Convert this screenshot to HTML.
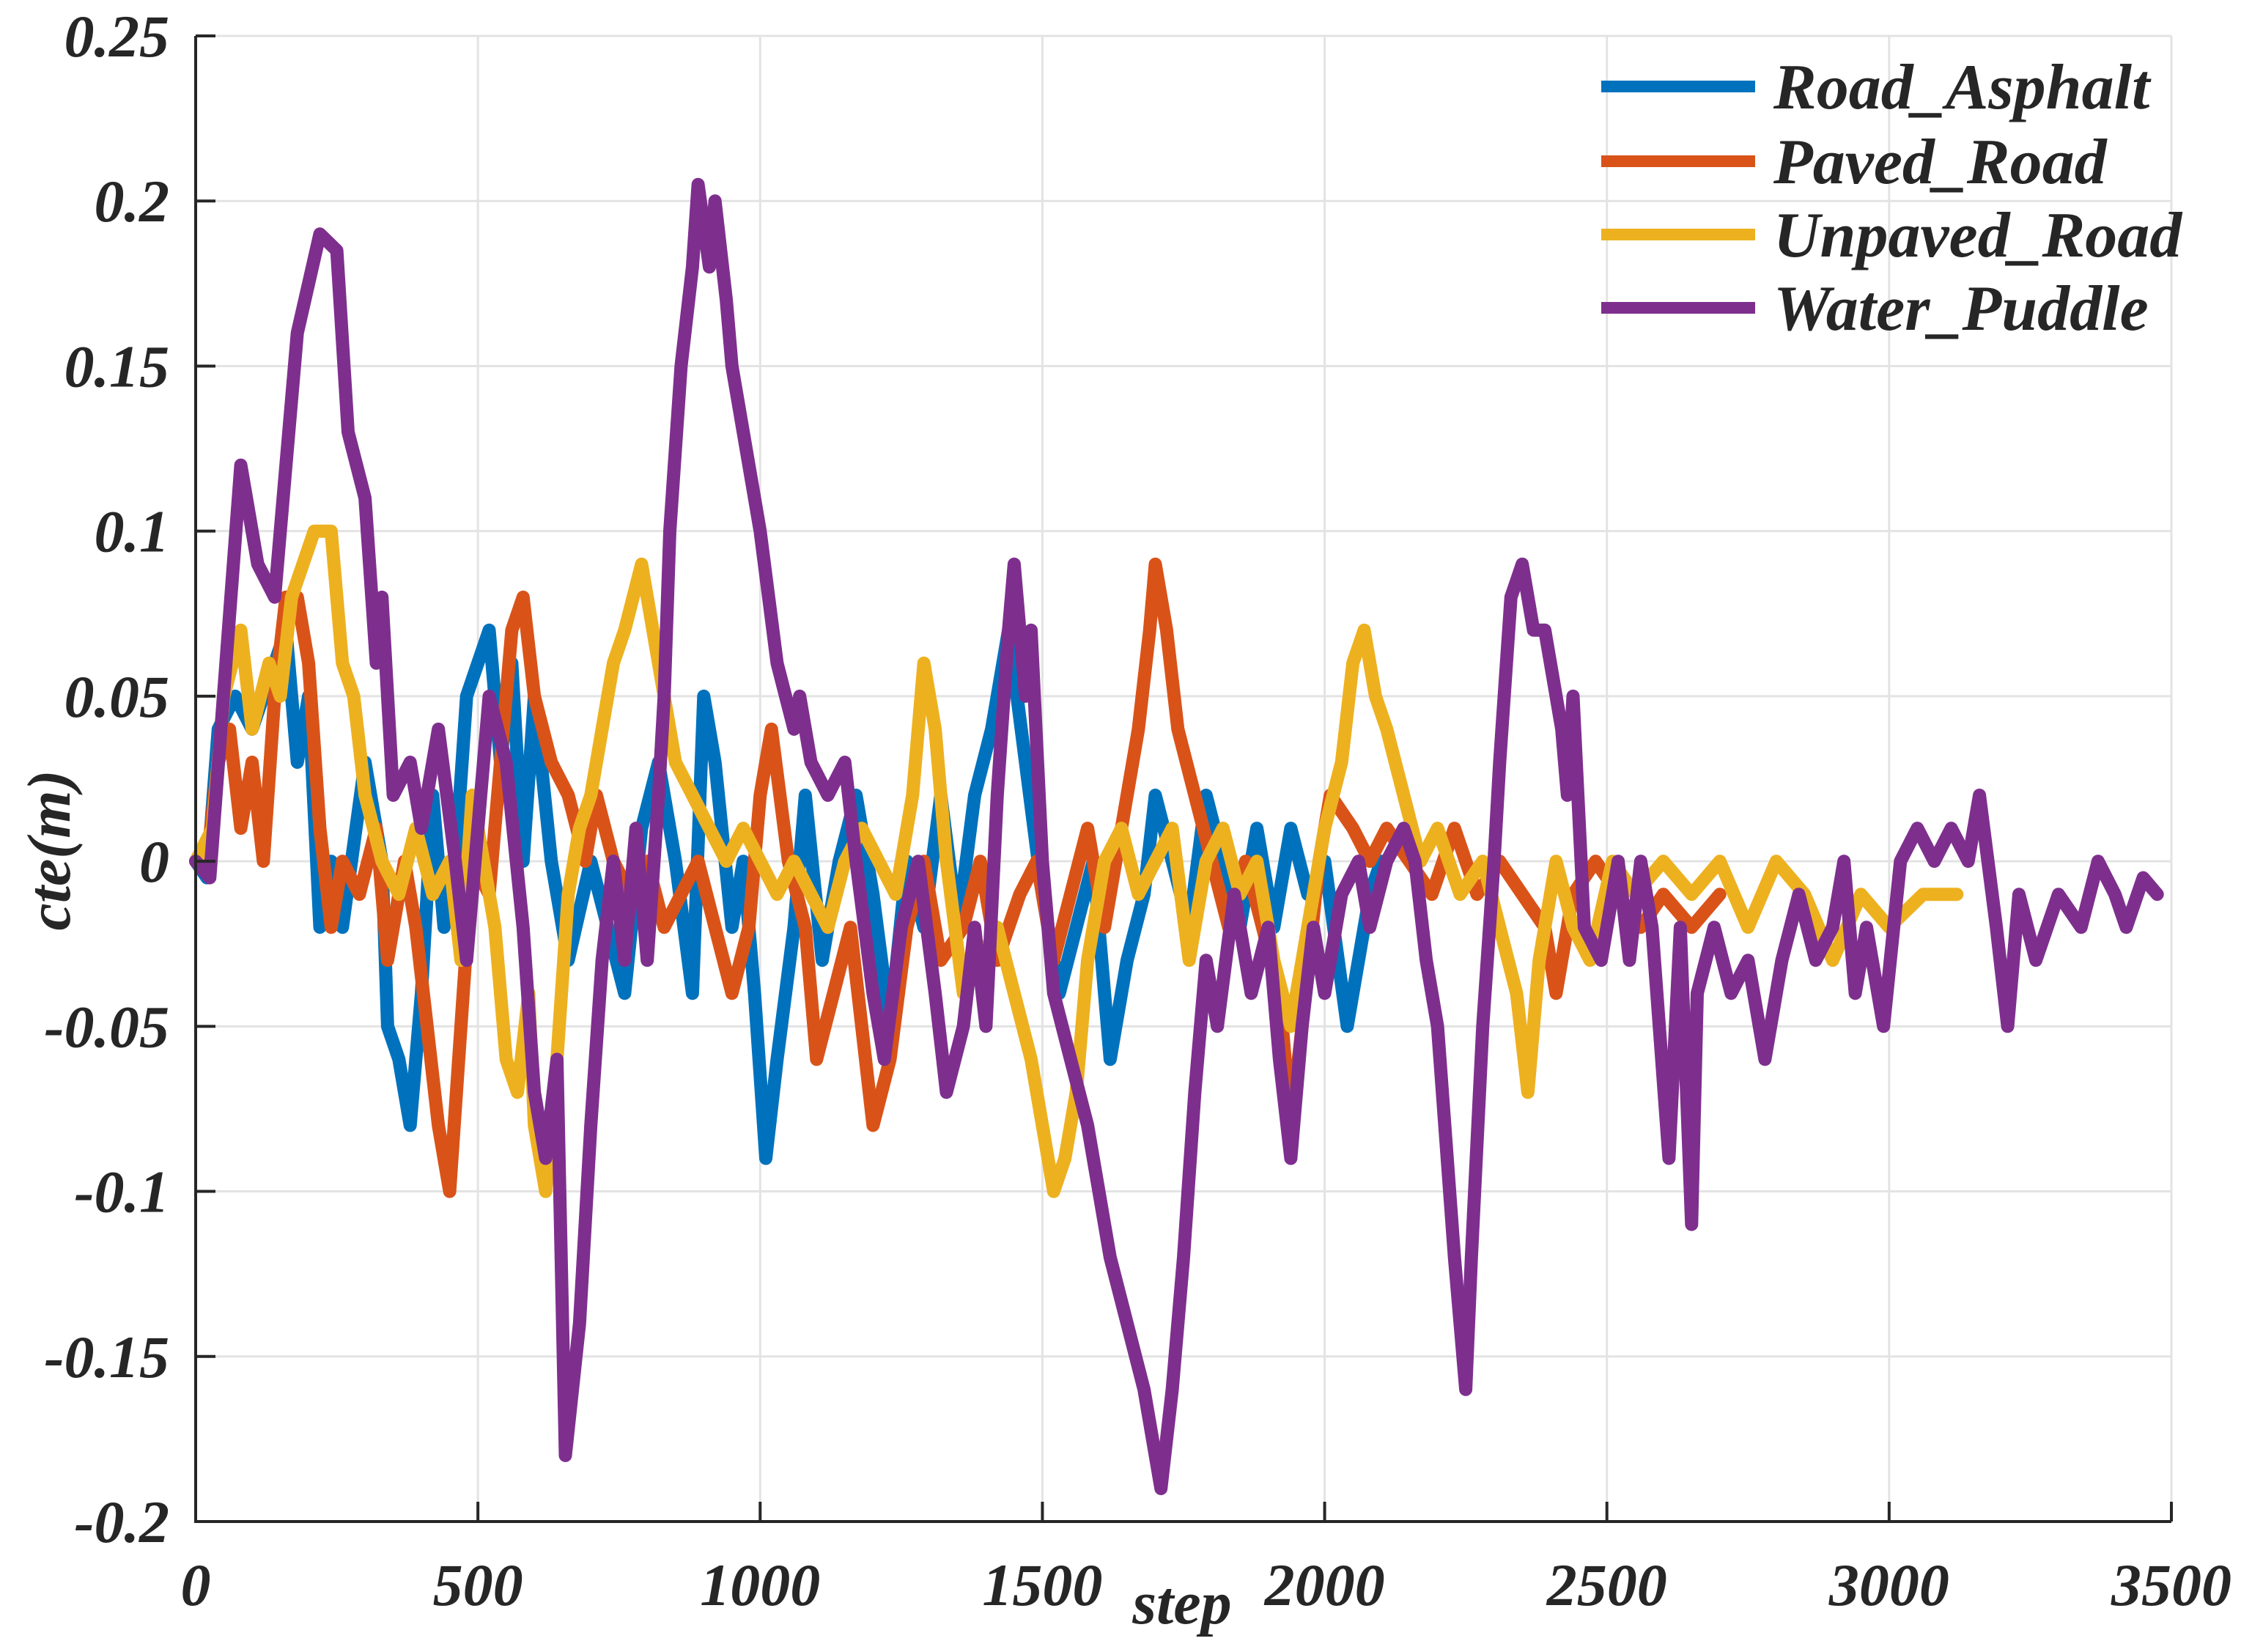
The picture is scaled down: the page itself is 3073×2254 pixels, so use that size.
<!DOCTYPE html>
<html><head><meta charset="utf-8"><style>
html,body{margin:0;padding:0;background:#fff;}
svg{display:block;}
text{font-family:"Liberation Serif",serif;font-weight:bold;font-style:italic;fill:#262626;}
</style></head><body>
<svg id="chart" width="3073" height="2254" viewBox="0 0 3073 2254" xmlns="http://www.w3.org/2000/svg">
<g id="grid"></g>
<g id="series"></g>
<g id="axes"></g>
<g id="legend"></g>
</svg>
<script>
const xTicks=[0,500,1000,1500,2000,2500,3000,3500];
const yTicks=[-0.2,-0.15,-0.1,-0.05,0,0.05,0.1,0.15,0.2,0.25];
const yTickLabels=["-0.2","-0.15","-0.1","-0.05","0","0.05","0.1","0.15","0.2","0.25"];
const seriesNames=["Road_Asphalt","Paved_Road","Unpaved_Road","Water_Puddle"];
const asphaltX=[0,20,40,70,100,140,160,180,200,220,240,260,300,330,340,360,380,400,420,440,460,480,500,520,540,560,580,600,630,660,700,730,760,790,820,850,880,900,920,950,970,990,1010,1030,1060,1080,1110,1140,1170,1200,1230,1260,1290,1320,1350,1380,1410,1440,1470,1500,1530,1560,1590,1620,1650,1680,1700,1730,1760,1790,1820,1850,1880,1910,1940,1970,2000,2040,2080,2100];
const asphaltY=[0,-0.005,0.04,0.05,0.04,0.06,0.07,0.03,0.05,-0.02,0,-0.02,0.03,0,-0.05,-0.06,-0.08,-0.04,0.02,-0.02,0,0.05,0.06,0.07,0.03,0.06,0,0.05,0,-0.03,0,-0.02,-0.04,0.01,0.03,0,-0.04,0.05,0.03,-0.02,0,-0.04,-0.09,-0.06,-0.02,0.02,-0.03,0,0.02,-0.01,-0.05,0,-0.02,0.02,-0.02,0.02,0.04,0.07,0.03,-0.01,-0.04,-0.02,0,-0.06,-0.03,-0.01,0.02,0,-0.02,0.02,0,-0.02,0.01,-0.02,0.01,-0.01,0,-0.05,-0.01,0];
const pavedX=[0,20,40,60,80,100,120,140,160,180,200,220,240,260,290,320,340,370,390,410,430,450,470,490,520,540,560,580,600,630,660,690,710,740,770,800,830,860,890,920,950,980,1000,1020,1050,1080,1100,1130,1160,1180,1200,1230,1260,1290,1320,1360,1390,1420,1460,1490,1520,1550,1580,1610,1640,1670,1690,1700,1720,1740,1770,1800,1830,1860,1890,1920,1940,1960,1990,2010,2050,2080,2110,2150,2190,2230,2270,2310,2350,2390,2410,2440,2480,2520,2560,2600,2650,2700];
const pavedY=[0,0,0.03,0.04,0.01,0.03,0,0.05,0.08,0.08,0.06,0.01,-0.02,0,-0.01,0.01,-0.03,0,-0.02,-0.05,-0.08,-0.1,-0.05,0,-0.01,0.03,0.07,0.08,0.05,0.03,0.02,0,0.02,0,-0.01,0,-0.02,-0.01,0,-0.02,-0.04,-0.02,0.02,0.04,0,-0.02,-0.06,-0.04,-0.02,-0.05,-0.08,-0.06,-0.02,0,-0.03,-0.02,0,-0.03,-0.01,0,-0.03,-0.01,0.01,-0.02,0.01,0.04,0.07,0.09,0.07,0.04,0.02,0,-0.02,0,-0.02,-0.04,-0.08,-0.05,0,0.02,0.01,0,0.01,0,-0.01,0.01,-0.01,0,-0.01,-0.02,-0.04,-0.01,0,-0.01,-0.02,-0.01,-0.02,-0.01];
const unpavedX=[0,30,50,80,100,130,150,170,190,210,240,260,280,300,330,360,390,420,450,470,490,510,530,550,570,590,600,620,640,660,680,700,720,740,760,790,810,830,850,880,910,940,970,1000,1030,1060,1090,1120,1150,1180,1210,1240,1270,1290,1310,1330,1360,1390,1420,1450,1480,1500,1520,1540,1560,1580,1610,1640,1670,1700,1730,1760,1790,1820,1850,1880,1910,1940,1970,2000,2030,2050,2070,2090,2110,2140,2170,2200,2240,2280,2310,2340,2360,2380,2410,2440,2470,2510,2550,2600,2650,2700,2750,2800,2850,2900,2950,3000,3060,3120];
const unpavedY=[0,0.01,0.05,0.07,0.04,0.06,0.05,0.08,0.09,0.1,0.1,0.06,0.05,0.02,0,-0.01,0.01,-0.01,0,-0.03,0.02,0,-0.02,-0.06,-0.07,-0.04,-0.08,-0.1,-0.06,-0.01,0.01,0.02,0.04,0.06,0.07,0.09,0.07,0.05,0.03,0.02,0.01,0,0.01,0,-0.01,0,-0.01,-0.02,0,0.01,0,-0.01,0.02,0.06,0.04,0,-0.04,-0.03,-0.02,-0.04,-0.06,-0.08,-0.1,-0.09,-0.07,-0.03,0,0.01,-0.01,0,0.01,-0.03,0,0.01,-0.01,0,-0.03,-0.05,-0.02,0.01,0.03,0.06,0.07,0.05,0.04,0.02,0,0.01,-0.01,0,-0.02,-0.04,-0.07,-0.03,0,-0.02,-0.03,0,-0.01,0,-0.01,0,-0.02,0,-0.01,-0.03,-0.01,-0.02,-0.01,-0.01];
const puddleX=[0,25,80,110,140,160,180,220,250,270,300,320,330,350,380,400,430,460,480,520,550,580,600,620,640,655,680,700,720,740,760,780,800,820,830,840,860,880,890,910,920,940,950,980,1000,1030,1060,1070,1090,1120,1150,1170,1200,1220,1250,1280,1310,1330,1360,1380,1400,1420,1440,1450,1470,1480,1500,1520,1550,1580,1620,1650,1680,1700,1710,1730,1750,1770,1790,1810,1840,1870,1900,1920,1940,1960,1980,2000,2030,2060,2080,2110,2140,2160,2180,2200,2230,2250,2260,2280,2300,2310,2330,2350,2370,2390,2420,2430,2440,2460,2490,2520,2540,2560,2580,2610,2630,2650,2660,2690,2720,2750,2780,2810,2840,2870,2900,2920,2940,2960,2990,3020,3050,3080,3110,3140,3160,3190,3210,3230,3260,3300,3340,3370,3400,3420,3450,3475];
const puddleY=[0,-0.005,0.12,0.09,0.08,0.12,0.16,0.19,0.185,0.13,0.11,0.06,0.08,0.02,0.03,0.01,0.04,0,-0.03,0.05,0.03,-0.02,-0.07,-0.09,-0.06,-0.18,-0.14,-0.08,-0.03,0,-0.03,0.01,-0.03,0.02,0.05,0.1,0.15,0.18,0.205,0.18,0.2,0.17,0.15,0.12,0.1,0.06,0.04,0.05,0.03,0.02,0.03,0,-0.04,-0.06,-0.02,0,-0.04,-0.07,-0.05,-0.02,-0.05,0.02,0.07,0.09,0.05,0.07,0,-0.04,-0.06,-0.08,-0.12,-0.14,-0.16,-0.18,-0.19,-0.16,-0.12,-0.07,-0.03,-0.05,-0.01,-0.04,-0.02,-0.06,-0.09,-0.05,-0.02,-0.04,-0.01,0,-0.02,0,0.01,0,-0.03,-0.05,-0.12,-0.16,-0.12,-0.05,0,0.03,0.08,0.09,0.07,0.07,0.04,0.02,0.05,-0.02,-0.03,0,-0.03,0,-0.02,-0.09,-0.02,-0.11,-0.04,-0.02,-0.04,-0.03,-0.06,-0.03,-0.01,-0.03,-0.02,0,-0.04,-0.02,-0.05,0,0.01,0,0.01,0,0.02,-0.02,-0.05,-0.01,-0.03,-0.01,-0.02,0,-0.01,-0.02,-0.005,-0.01];

const NS="http://www.w3.org/2000/svg";
const L=267,R=2963,T=49,B=2076;
const sx=v=>L+(v-0)/(3500-0)*(R-L);
const sy=v=>B-(v+0.2)/(0.45)*(B-T);
function mk(tag,attrs,parent){const e=document.createElementNS(NS,tag);for(const k in attrs)e.setAttribute(k,attrs[k]);parent.appendChild(e);return e;}
const grid=document.getElementById('grid'),axes=document.getElementById('axes'),ser=document.getElementById('series'),leg=document.getElementById('legend');
xTicks.forEach((t,i)=>{
 const g=mk('line',{x1:sx(t),x2:sx(t),y1:T,y2:B,stroke:'#e3e3e3','stroke-width':3},grid);
 
 
 const tk=mk('line',{x1:sx(t),x2:sx(t),y1:B,y2:B-27,stroke:'#262626','stroke-width':4},axes);
 
 
 const tx=mk('text',{x:sx(t),y:2190,'text-anchor':'middle','font-size':82},axes);
 tx.textContent=String(t);
 
 
});
yTicks.forEach((t,i)=>{
 const g=mk('line',{x1:L,x2:R,y1:sy(t),y2:sy(t),stroke:'#e3e3e3','stroke-width':3},grid);
 
 
 const tk=mk('line',{x1:L,x2:L+27,y1:sy(t),y2:sy(t),stroke:'#262626','stroke-width':4},axes);
 
 
 const tx=mk('text',{x:231,y:sy(t)+28,'text-anchor':'end','font-size':82},axes);
 tx.textContent=yTickLabels[i];
 
 
});
const ax=mk('path',{d:`M${L},${T} L${L},${B} L${R},${B}`,fill:'none',stroke:'#262626','stroke-width':4},axes);


const xl=mk('text',{x:1613,y:2215,'text-anchor':'middle','font-size':84},axes);
xl.textContent='step';


const yl=mk('text',{x:0,y:0,'text-anchor':'middle','font-size':84,transform:'translate(95,1160) rotate(-90)'},axes);
yl.textContent='cte(m)';


const colors=['#0072BD','#D95319','#EDB120','#7E2F8E'];
const xs=[asphaltX,pavedX,unpavedX,puddleX],ys=[asphaltY,pavedY,unpavedY,puddleY];
const lineNames=['line-road-asphalt','line-paved-road','line-unpaved-road','line-water-puddle'];
for(let s=0;s<4;s++){
 let d='';xs[s].forEach((x,i)=>{d+=(i?'L':'M')+sx(x).toFixed(1)+','+sy(ys[s][i]).toFixed(1);});
 const p=mk('path',{d:d,fill:'none',stroke:colors[s],'stroke-width':18,'stroke-linejoin':'round','stroke-linecap':'round'},ser);
 
 
}
const legY=[118,220,320,420];
for(let s=0;s<4;s++){
 const ln=mk('line',{x1:2185,x2:2395,y1:legY[s],y2:legY[s],stroke:colors[s],'stroke-width':16},leg);
 
 
 const t=mk('text',{x:2420,y:legY[s]+30,'font-size':88},leg);
 t.textContent=seriesNames[s];
 
 
}
</script>
</body></html>
